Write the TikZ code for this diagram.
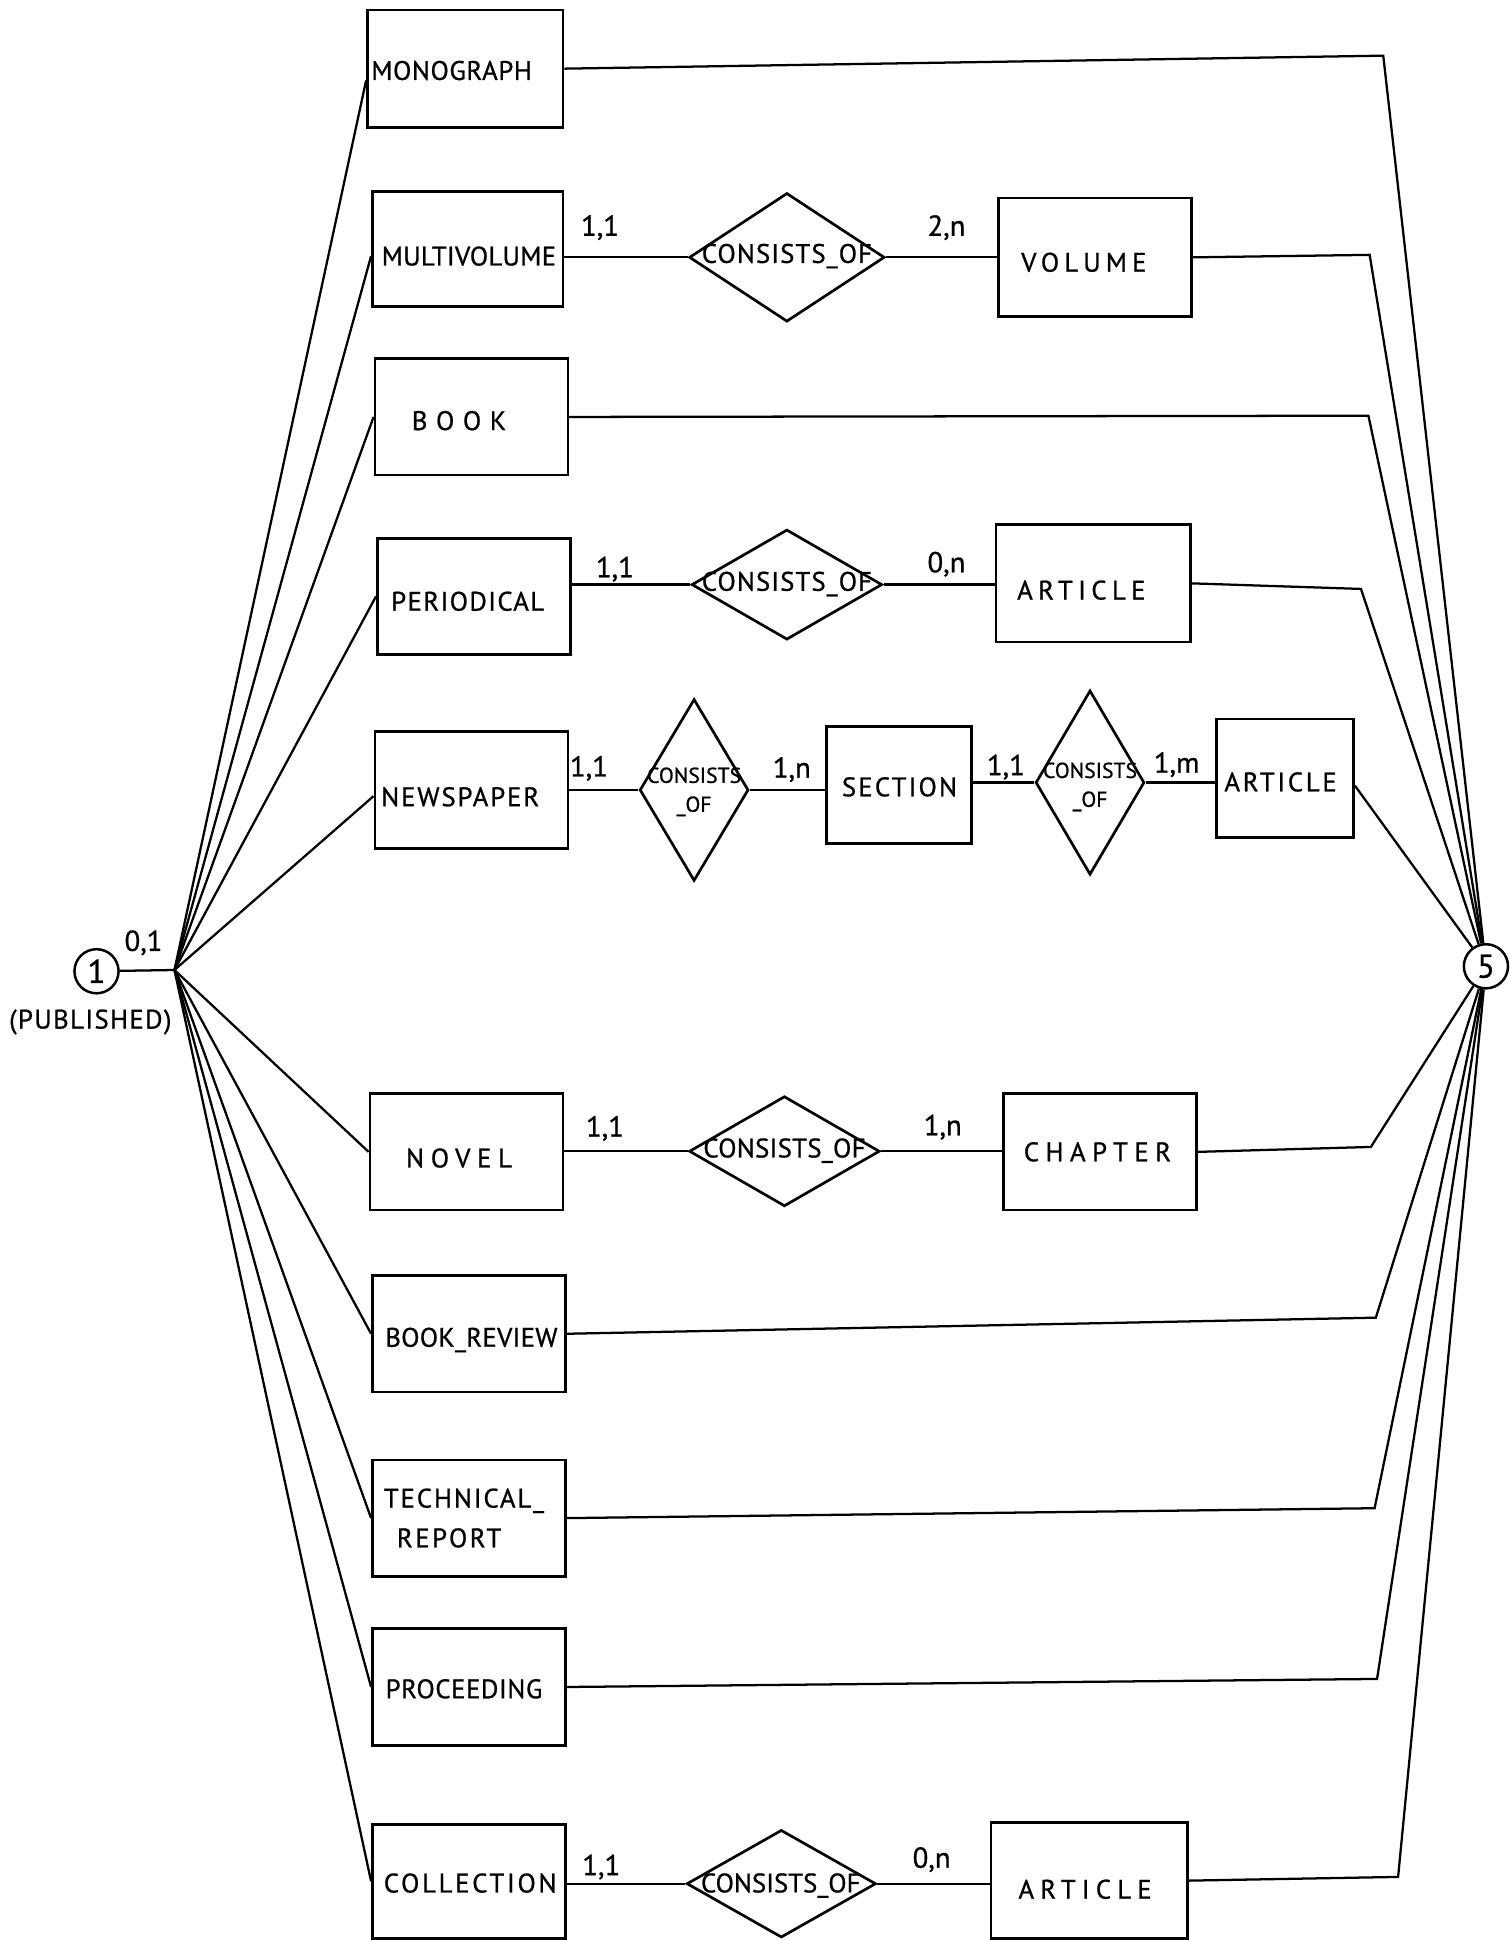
\documentclass[tikz,border=0pt]{standalone}
\usepackage{fontspec}
\setmainfont[FakeBold=0.8]{PT Sans}
\usetikzlibrary{shapes.geometric,calc}
\newcommand\lsp[2]{{\addfontfeature{LetterSpace=#1}#2}}
\begin{document}
\begin{tikzpicture}[x=0.6pt,y=-0.6pt,
  entbox/.style={draw, line width=1.3pt, inner sep=0pt},
  ent/.style 2 args={entbox, minimum width=#1*0.6pt, minimum height=#2*0.6pt},
  rel/.style 2 args={draw, diamond, line width=1.3pt, inner sep=0pt, minimum width=#1*0.6pt, minimum height=#2*0.6pt},
  lbl/.style={font=\fontsize{13}{15}\selectfont, inner sep=0pt},
  slbl/.style={font=\fontsize{10.5}{12}\selectfont, inner sep=0pt, align=center},
  card/.style={font=\fontsize{14}{16}\selectfont, inner sep=0pt},
  conn/.style={line width=1.1pt},
  circ/.style={draw, circle, line width=1.2pt, minimum size=21.4pt, inner sep=0pt, font=\fontsize{16}{18}\selectfont}
]
\useasboundingbox[fill=white] (0,0) rectangle (1220,1568);

% entities
\node[ent={158}{95}] (mono) at (376,55.5) {};
\node[ent={154}{93}] (multi) at (378,201.5) {};
\node[ent={156}{96}] (vol) at (885,208) {};
\node[ent={156}{94}] (book) at (381,337) {};
\node[ent={156}{94}] (per) at (383,482) {};
\node[ent={157}{95}] (art1) at (883.5,471.5) {};
\node[ent={156}{95}] (news) at (381,638.5) {};
\node[ent={117}{95}] (sec) at (726.5,634.5) {};
\node[ent={111}{96}] (art2) at (1038.5,629) {};
\node[ent={156}{94}] (nov) at (377,931) {};
\node[ent={156}{94}] (chap) at (889,931) {};
\node[ent={156}{94}] (rev) at (379,1078) {};
\node[ent={156}{94}] (tech) at (379,1227) {};
\node[ent={156}{95}] (proc) at (379,1363.5) {};
\node[ent={156}{92}] (coll) at (379,1520.5) {};
\node[ent={159}{94}] (art3) at (880.5,1520) {};

% relationships
\node[rel={158}{104}] (r1) at (636,208) {};
\node[rel={154}{89}] (r2) at (636,472.5) {};
\node[rel={88}{147}] (r3) at (561,638.5) {};
\node[rel={88}{149}] (r4) at (881,632.5) {};
\node[rel={154}{89}] (r5) at (634,930.5) {};
\node[rel={153}{87}] (r6) at (631.5,1522.5) {};

% entity labels
\node[lbl] (tmono) at (365,57) {\lsp{2}{MONOGRAPH}};
\node[lbl] (tmulti) at (379,207) {\lsp{1}{MULTIVOLUME}};
\node[lbl] (tvol) at (876,212) {\lsp{19}{VOLUME}};
\node[lbl] (tbook) at (371,340) {\lsp{32}{BOOK}};
\node[lbl] (tper) at (378,486) {\lsp{5}{PERIODICAL}};
\node[lbl] (tart1) at (874,477) {\lsp{20}{ARTICLE}};
\node[lbl] (tnews) at (372,644) {\lsp{7}{NEWSPAPER}};
\node[lbl] (tsec) at (727,636) {\lsp{8}{SECTION}};
\node[lbl] (tart2) at (1035,632) {\lsp{10}{ARTICLE}};
\node[lbl] (tnov) at (371,936) {\lsp{25}{NOVEL}};
\node[lbl] (tchap) at (887,931) {\lsp{24}{CHAPTER}};
\node[lbl] (trev) at (381,1083) {\lsp{1}{BOOK\_REVIEW}};
\node[lbl] (ttech1) at (375,1213) {\lsp{7}{TECHNICAL\_}};
\node[lbl] (ttech2) at (363,1243) {\lsp{9}{REPORT}};
\node[lbl] (tproc) at (375,1365) {\lsp{2}{PROCEEDING}};
\node[lbl] (tcoll) at (380,1522) {\lsp{10}{COLLECTION}};
\node[lbl] (tart3) at (877,1527) {\lsp{23}{ARTICLE}};

% relationship labels
\node[lbl] (tr1) at (636,207) {\lsp{4}{CONSISTS\_OF}};
\node[lbl] (tr2) at (636,472) {\lsp{4}{CONSISTS\_OF}};
\node[slbl] (tr3) at (561,640) {CONSISTS\\[2pt]\_OF};
\node[slbl] (tr4) at (881,636) {CONSISTS\\[2pt]\_OF};
\node[lbl] (tr5) at (634,930) {\lsp{1}{CONSISTS\_OF}};
\node[lbl] (tr6) at (631,1524) {CONSISTS\_OF};

% cardinalities
\node[card] (k01) at (116,762) {0,1};
\node[card] (k1) at (485,184) {1,1};
\node[card] (k2) at (765,184) {2,n};
\node[card] (k3) at (497,460) {1,1};
\node[card] (k4) at (765,456) {0,n};
\node[card] (k5) at (476,621) {1,1};
\node[card] (k6) at (640,622) {1,n};
\node[card] (k7) at (813,620) {1,1};
\node[card] (k8) at (951,618) {1,m};
\node[card] (k9) at (489,912) {1,1};
\node[card] (k10) at (762,911) {1,n};
\node[card] (k11) at (486,1509) {1,1};
\node[card] (k12) at (753,1503) {0,n};

% circles
\coordinate (hub) at (141,784);
\node[circ] (c1) at (78,785) {1};
\node[lbl] (tpub) at (73,826) {\lsp{5}{(PUBLISHED)}};
\node[circ] (c5) at (1201,781) {5};

% left fan
\draw[conn] (c1) -- (hub);
\draw[conn] (hub) -- ($(mono.west)+(0,9.5)$);
\draw[conn] (hub) -- ($(multi.west)+(0,5.5)$);
\draw[conn] (hub) -- (book.west);
\draw[conn] (hub) -- (per.west);
\draw[conn] (hub) -- ($(news.west)+(0,5)$);
\draw[conn] (hub) -- (nov.west);
\draw[conn] (hub) -- (rev.west);
\draw[conn] (hub) -- (tech.west);
\draw[conn] (hub) -- (proc.west);
\draw[conn] (hub) -- (coll.west);

% relationship connectors
\draw[conn] (multi.east |- r1.west) -- (r1.west);
\draw[conn] (r1.east) -- (vol.west |- r1.east);
\draw[conn] (per.east |- r2.west) -- (r2.west);
\draw[conn] (r2.east) -- (art1.west |- r2.east);
\draw[conn] (news.east |- r3.west) -- (r3.west);
\draw[conn] (r3.east) -- (sec.west |- r3.east);
\draw[conn] (sec.east |- r4.west) -- (r4.west);
\draw[conn] (r4.east) -- (art2.west |- r4.east);
\draw[conn] (nov.east |- r5.west) -- (r5.west);
\draw[conn] (r5.east) -- (chap.west |- r5.east);
\draw[conn] (coll.east |- r6.west) -- (r6.west);
\draw[conn] (r6.east) -- (art3.west |- r6.east);

% right fan
\coordinate (b1) at (1118,45);
\coordinate (b2) at (1107,206);
\coordinate (b3) at (1106,336);
\coordinate (b4) at (1100,476);
\coordinate (b6) at (1108,927);
\coordinate (b7) at (1112,1065);
\coordinate (b8) at (1111,1219);
\coordinate (b9) at (1113,1357);
\coordinate (b10) at (1130,1517);
\draw[conn] (mono.east) -- (b1) -- (c5);
\draw[conn] (vol.east) -- (b2) -- (c5);
\draw[conn] (book.east) -- (b3) -- (c5);
\draw[conn] (art1.east) -- (b4) -- (c5);
\draw[conn] ($(art2.east)+(0,6)$) -- (c5);
\draw[conn] (chap.east) -- (b6) -- (c5);
\draw[conn] (rev.east) -- (b7) -- (c5);
\draw[conn] (tech.east) -- (b8) -- (c5);
\draw[conn] (proc.east) -- (b9) -- (c5);
\draw[conn] (art3.east) -- (b10) -- (c5);
\end{tikzpicture}
\end{document}
